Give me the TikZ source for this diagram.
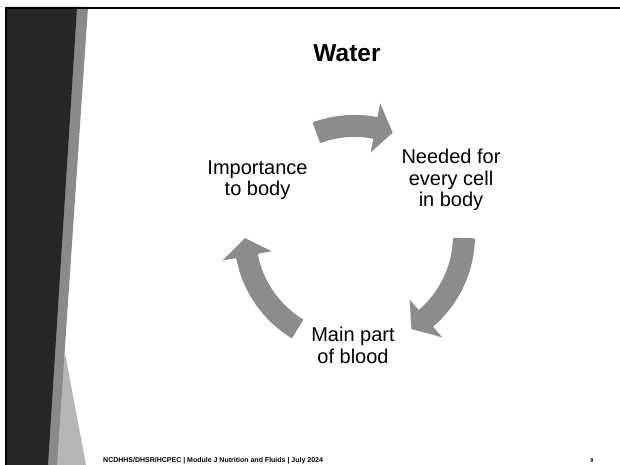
\documentclass[tikz,border=0pt]{standalone}
\usepackage{fontspec}
\setmainfont{Liberation Sans}
\definecolor{panel}{RGB}{38,38,38}
\definecolor{strip}{RGB}{138,138,138}
\definecolor{lighttri}{RGB}{182,182,182}
\definecolor{arrowgray}{RGB}{140,140,140}
\tikzset{
  lbl/.style={inner sep=0pt, align=center, anchor=north, font=\fontsize{20}{21.5}\selectfont},
  cyc/.style={fill=arrowgray, draw=none}
}
\newcommand\cycarrow[2]{% tail angle, tip angle (clockwise)
  \pgfmathsetmacro\hb{#2+9.4}
  \fill[cyc] (#1:120.5) arc[start angle=#1, end angle=\hb, radius=120.5]
    -- (\hb:134.5) -- (#2:109.5) -- (\hb:84.5) -- (\hb:98.5)
    arc[start angle=\hb, end angle=#1, radius=98.5] -- cycle;}
\begin{document}
\begin{tikzpicture}[x=1pt,y=-1pt]
\useasboundingbox (0,0) rectangle (620,465);
\fill[white] (0,0) rectangle (620,465);
% left decoration
\fill[lighttri] (65,353) -- (86,465) -- (50,465) -- cycle;
\fill[strip] (7,7) -- (88,7) -- (57,465) -- (7,465) -- cycle;
\fill[panel] (7,7) -- (77,7) -- (48,465) -- (7,465) -- cycle;
% border
\fill[black] (5,6.8) rectangle (620,9.2);
\fill[black] (5,6.8) rectangle (7.2,465);
% title
\node[inner sep=0pt, anchor=north, font=\fontsize{24.5}{29}\selectfont\bfseries] (title) at (347,44.3) {Water};
% cycle
\coordinate (c) at (354.5,235.4);
\begin{scope}[shift={(c)}, y=1pt]
\cycarrow{110.4}{69.6}
\cycarrow{-1.4}{-58.7}
\cycarrow{238.7}{181.4}
\end{scope}
\node[lbl] (imp) at (257.5,160.5) {Importance\\to body};
\node[lbl] (need) at (451,149) {Needed for\\every cell\\in body};
\node[lbl] (main) at (353,327) {Main part\\of blood};
% footer
\node[inner sep=0pt, anchor=base west, font=\fontsize{7}{8.5}\selectfont\bfseries] (foot) at (103,462) {NCDHHS/DHSR/HCPEC | Module J Nutrition and Fluids | July 2024};
\node[inner sep=0pt, anchor=base, font=\fontsize{5.5}{7}\selectfont\bfseries] (num) at (592,462.5) {9};
\end{tikzpicture}
\end{document}
